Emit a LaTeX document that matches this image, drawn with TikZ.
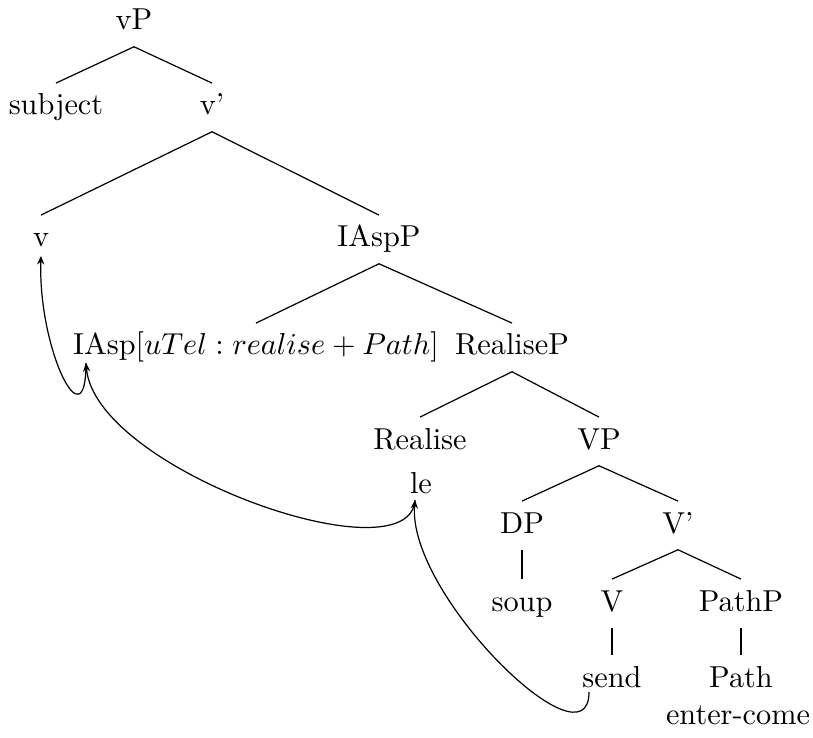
\documentclass[tikz,border=0pt]{standalone}
\usepackage{amssymb,amsmath}
\usepackage{tikz}
\usetikzlibrary{arrows.meta,calc}

\begin{document}
\begin{tikzpicture}[
  x=0.33pt, y=-0.33pt,
  every node/.style={anchor=base, text height=7pt, text depth=2pt},
  br/.style={line width=0.4pt},
  mv/.style={-{Stealth[length=2.8pt,width=2.4pt]}, line width=0.4pt}
]
  \useasboundingbox (0,0) rectangle (813,738);
  % tree labels
  \node (vP) at (134,30) {vP};
  \node (subj) at (56,115) {subject};
  \node (vbar) at (212,115) {v'};
  \node (v) at (41,247) {v};
  \node (IAspP) at (379,247) {IAspP};
  \node (IAsp) at (256,355) {IAsp$[uTel: realise + Path]$};
  \node (RealiseP) at (512,355) {RealiseP};
  \node (Realise) at (420,449) {Realise};
  \node (VP) at (599,449) {VP};
  \node (le) at (421,493) {le};
  \node (DP) at (522,533) {DP};
  \node (Vbar) at (678,533) {V'};
  \node (soup) at (522,611) {soup};
  \node (V) at (612,611) {V};
  \node (PathP) at (741,611) {PathP};
  \node (send) at (612,687) {send};
  \node (Path) at (741,687) {Path};
  \node (entercome) at (738,724) {enter-come};
  % branches
  \draw[br] (vP.south) -- (subj.north);
  \draw[br] (vP.south) -- (vbar.north);
  \draw[br] (vbar.south) -- (v.north);
  \draw[br] (vbar.south) -- (IAspP.north);
  \draw[br] (IAspP.south) -- (IAsp.north);
  \draw[br] (IAspP.south) -- (RealiseP.north);
  \draw[br] (RealiseP.south) -- (Realise.north);
  \draw[br] (RealiseP.south) -- (VP.north);
  \draw[br] (VP.south) -- (DP.north);
  \draw[br] (VP.south) -- (Vbar.north);
  \draw[br] (DP.south) -- (soup.north);
  \draw[br] (Vbar.south) -- (V.north);
  \draw[br] (Vbar.south) -- (PathP.north);
  \draw[br] (V.south) -- (send.north);
  \draw[br] (PathP.south) -- (Path.north);
  % head movement
  \draw[mv] ($(send.base)+(-23,5)$) .. controls +(0,80) and +(-8,95) .. ($(le.base)+(-6,7)$);
  \draw[mv] ($(le.base)+(-6,7)$) .. controls +(-5,80) and +(9,107) .. ($(IAsp.base)+(-170,8)$);
  \draw[mv] ($(IAsp.base)+(-170,8)$) .. controls +(0,82) and +(-3,94) .. ($(v.base)+(0,9)$);
\end{tikzpicture}
\end{document}
